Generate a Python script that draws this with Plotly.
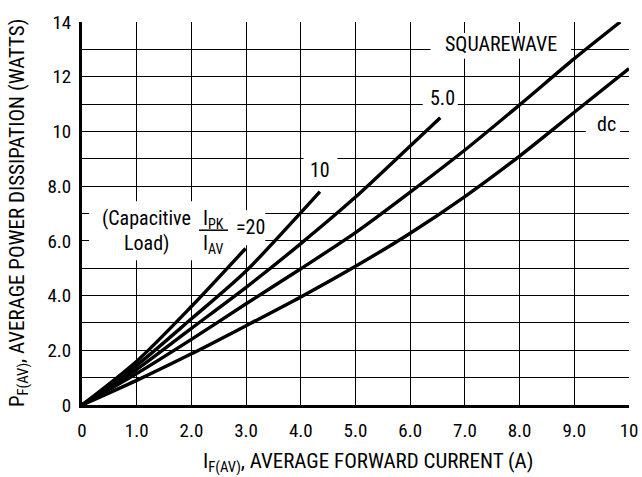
import plotly.graph_objects as go

# ---- data ----
i_dc = [0, 1, 2, 3, 4, 5, 6, 7, 8, 9, 10]
p_dc = [0, 0.9, 1.87, 2.9, 3.95, 5.07, 6.28, 7.62, 9.1, 10.7, 12.3]

i_sq = [0, 1, 2, 3, 4, 5, 6, 7, 8, 9, 9.84]
p_sq = [0, 1.15, 2.4, 3.7, 4.98, 6.3, 7.78, 9.32, 10.97, 12.66, 14.0]

i_r5 = [0, 1, 2, 3, 4, 5, 6, 6.55]
p_r5 = [0, 1.3, 2.8, 4.3, 5.9, 7.6, 9.47, 10.5]

i_r10 = [0, 1, 2, 3, 4, 4.35]
p_r10 = [0, 1.45, 3.15, 4.9, 7.03, 7.8]

i_r20 = [0, 1, 2, 2.99]
p_r20 = [0, 1.6, 3.6, 5.72]

x_ticks = [0, 1, 2, 3, 4, 5, 6, 7, 8, 9, 10]
x_labels = ["0", "1.0", "2.0", "3.0", "4.0", "5.0", "6.0", "7.0", "8.0", "9.0", "10"]
y_ticks = list(range(0, 15))
y_labels = ["0", "", "2.0", "", "4.0", "", "6.0", "", "8.0", "", "10", "", "12", "", "14"]

FONT = "Liberation Sans Narrow, Arial Narrow, Roboto Condensed, Liberation Sans, sans-serif"

fig = go.Figure()
for xs, ys in [(i_dc, p_dc), (i_sq, p_sq), (i_r5, p_r5), (i_r10, p_r10), (i_r20, p_r20)]:
    fig.add_trace(go.Scatter(x=xs, y=ys, mode="lines",
                             line=dict(color="black", width=3.4, shape="spline", smoothing=0.8),
                             showlegend=False, hoverinfo="skip"))

# white boxes that interrupt the grid behind labels
boxes = [
    (6.37, 8.94, 12.66, 13.6),   # SQUAREWAVE
    (6.23, 6.87, 10.8, 11.68),   # 5.0
    (9.21, 9.84, 9.78, 10.7),    # dc
    (4.05, 4.67, 8.14, 9.12),    # 10
    (0.13, 2.69, 5.29, 7.45),    # capacitive load
    (2.69, 3.35, 5.84, 7.12),    # =20
]
for x0, x1, y0, y1 in boxes:
    fig.add_shape(type="rect", x0=x0, x1=x1, y0=y0, y1=y1, xref="x", yref="y",
                  fillcolor="white", line=dict(width=0), layer="between")

# fraction bar
fig.add_shape(type="line", x0=2.14, x1=2.67, y0=6.39, y1=6.39, xref="x", yref="y",
              line=dict(color="black", width=1.5), layer="above")

lab_font = dict(family=FONT, size=20, color="black")
labels = [
    ("SQUAREWAVE", 7.66, 13.2),
    ("5.0", 6.59, 11.24),
    ("dc", 9.58, 10.29),
    ("10", 4.36, 8.58),
    ("(Capacitive", 1.17, 6.82),
    ("Load)", 1.17, 5.91),
    ("I<sub>PK</sub>", 2.40, 6.80),
    ("I<sub>AV</sub>", 2.40, 5.88),
    ("=20", 3.08, 6.5),
]
for t, x, y in labels:
    fig.add_annotation(text=t, x=x, y=y, xref="x", yref="y", showarrow=False,
                       font=lab_font, xanchor="center", yanchor="middle")

title_font = dict(family=FONT, size=21, color="black")
fig.add_annotation(text="I<sub>F(AV)</sub>, AVERAGE FORWARD CURRENT (A)",
                   x=0.523, y=-0.149, xref="paper", yref="paper", showarrow=False,
                   font=title_font, xanchor="center", yanchor="middle")
fig.add_annotation(text="P<sub>F(AV)</sub>, AVERAGE POWER DISSIPATION (WATTS)",
                   x=-0.117, y=0.501, xref="paper", yref="paper", showarrow=False,
                   font=title_font, xanchor="center", yanchor="middle", textangle=-90)

tick_font = dict(family=FONT, size=19, color="black")
fig.update_xaxes(range=[0, 10], tickvals=x_ticks, ticktext=x_labels, showgrid=True,
                 gridcolor="black", gridwidth=1.2, zeroline=False, showline=True,
                 linecolor="black", linewidth=3, ticks="", tickfont=tick_font,
                 ticklabelstandoff=6, automargin=False)
fig.update_yaxes(range=[0, 14], tickvals=y_ticks, ticktext=y_labels, showgrid=True,
                 gridcolor="black", gridwidth=1.2, zeroline=False, showline=True,
                 linecolor="black", linewidth=3, ticks="", tickfont=tick_font,
                 ticklabelstandoff=4, automargin=False)
fig.update_layout(width=642, height=477, margin=dict(l=82, r=13, t=22, b=72),
                  plot_bgcolor="white", paper_bgcolor="white")
fig.write_html("out.html", config={"displayModeBar": False},
               post_script="document.body.style.margin='0px';")
